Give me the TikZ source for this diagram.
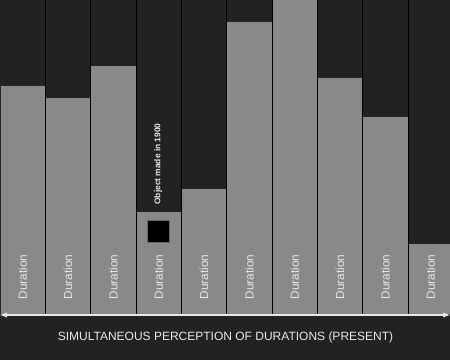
\documentclass[tikz,border=0pt]{standalone}
\usepackage{fontspec}
\setmainfont{Liberation Sans}
\usetikzlibrary{calc,arrows.meta}
\definecolor{bgdark}{HTML}{222222}
\definecolor{bargray}{HTML}{898989}
\definecolor{txtlight}{HTML}{E8E8E8}
\begin{document}
\begin{tikzpicture}[x=1pt,y=-1pt,
  bar/.style={rectangle,inner sep=0pt,outer sep=0pt,fill=bargray,draw=black!85,line width=0.6pt,minimum width=45.33pt},
  dur/.style={rotate=90,text=txtlight,font=\fontsize{11.8}{12}\selectfont,inner sep=0pt},
  sep/.style={draw=black,line width=0.9pt},
  objlabel/.style={rotate=90,text=txtlight,font=\fontsize{8.4}{9}\bfseries\selectfont,inner sep=0pt},
  objbox/.style={rectangle,fill=black,draw=black!60,line width=0.6pt,minimum size=22pt,inner sep=0pt},
  title/.style={text=txtlight,font=\fontsize{12}{13}\selectfont,inner sep=0pt},
  timeline/.style={draw=txtlight,line width=1.3pt,{Triangle[length=7pt,width=4.5pt]}-{Triangle[length=7pt,width=4.5pt]}}]
\useasboundingbox (0,0) rectangle (450,360);
\clip (0,0) rectangle (450,360);
\fill[bgdark] (0,0) rectangle (450,360);
\foreach \i/\t in {1/85,2/97,3/65.5,4/211.5,5/188,6/21,7/-1,8/77,9/116,10/243}{
  \pgfmathsetmacro\h{314-\t}
  \pgfmathsetmacro\xx{(\i-1)*45.33}
  \node[bar,minimum height=\h pt,anchor=south west] (b\i) at (\xx,314) {};
  \node[dur] (d\i) at ($(b\i.south)+(0,-37)$) {Duration};
}
\foreach \i in {1,...,9}{
  \pgfmathsetmacro\xx{\i*45.33}
  \draw[sep] (\xx,0) -- (\xx,314);
}
\node[objbox] (obj) at (158.6,231.6) {};
\node[objlabel] (objtxt) at (158.3,164) {Object made in 1900};
\coordinate (tl) at (0,315);
\coordinate (tr) at (450,315);
\draw[timeline] (tl) -- (tr);
\node[title] (ttl) at (225.5,337.5) {SIMULTANEOUS PERCEPTION OF DURATIONS (PRESENT)};
\end{tikzpicture}
\end{document}
